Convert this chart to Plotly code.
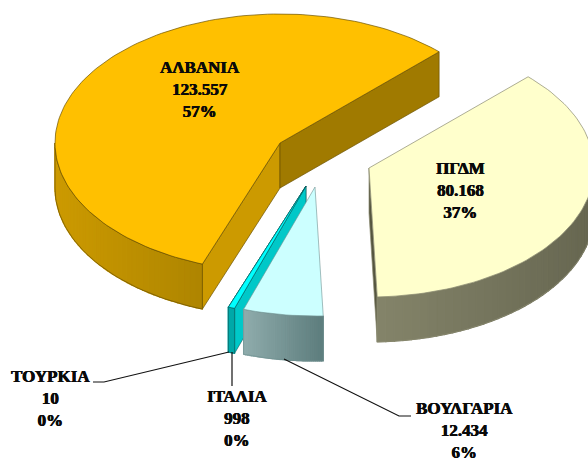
import math
import plotly.graph_objects as go

categories = ["ΠΓΔΜ", "ΒΟΥΛΓΑΡΙΑ", "ΙΤΑΛΙΑ", "ΤΟΥΡΚΙΑ", "ΑΛΒΑΝΙΑ"]
values = [80168, 12434, 998, 10, 123557]

first_slice_angle = 45
RX, RY, DEPTH = 225, 129, 45
W, H = 588, 461

style = {
    "ΑΛΒΑΝΙΑ": dict(apex=(280, 143), top="#FFC000", wall=("#CC9A00", "#AE8500"),
                    fs="#CC9A00", fe="#A07A00", line="#6B5200", lw=0.7, label=(200, 89)),
    "ΠΓΔΜ": dict(apex=(369, 168), top="#FFFFCC", wall=("#84846A", "#666650"),
                 fs="#66664F", fe="#55553F", line="#8A8A70", lw=0.7, label=(460, 190)),
    "ΒΟΥΛΓΑΡΙΑ": dict(apex=(315, 187), top="#CCFFFF", wall=("#8FACAC", "#5C7C7C"),
                      fs="#7A9A9A", fe="#7A9A9A", line="#6F9090", lw=0.6, label=(464, 430)),
    "ΙΤΑΛΙΑ": dict(apex=(306, 186), top="#00FFFF", wall=("#00A8A8", "#00A8A8"),
                   fs="#00C8C8", fe="#00A0A0", line="#0A5A5A", lw=0.6, label=(237, 418)),
    "ΤΟΥΡΚΙΑ": dict(apex=(306, 186), top="#00FFFF", wall=("#00A8A8", "#00A8A8"),
                    fs="#00C8C8", fe="#00A0A0", line="#0A5A5A", lw=0.6, label=(50, 398)),
}
leaders = {
    "ΤΟΥΡΚΙΑ": ([93, 104, 229], [382, 382, 352]),
    "ΙΤΑΛΙΑ": ([232, 232], [352, 386]),
    "ΒΟΥΛΓΑΡΙΑ": ([284, 399, 411], [359, 416, 416]),
}
paint_order = ["ΑΛΒΑΝΙΑ", "ΤΟΥΡΚΙΑ", "ΙΤΑΛΙΑ", "ΒΟΥΛΓΑΡΙΑ", "ΠΓΔΜ"]

total = sum(values)
spans = {}
a = first_slice_angle
for c, v in zip(categories, values):
    spans[c] = (a, a + 360 * v / total)
    a = spans[c][1]

fig = go.Figure()


def poly(xs, ys, fill, line=None, lw=0.5):
    fig.add_trace(go.Scatter(x=list(xs) + [xs[0]], y=list(ys) + [ys[0]], mode="lines", fill="toself",
                             fillcolor=fill, line=dict(color=line or fill, width=lw),
                             hoverinfo="skip", showlegend=False))


def pt(apex, deg, r=1.0):
    t = math.radians(deg)
    return apex[0] + r * RX * math.sin(t), apex[1] - r * RY * math.cos(t)


def mix(c1, c2, f):
    p = [int(c1[i:i + 2], 16) for i in (1, 3, 5)]
    q = [int(c2[i:i + 2], 16) for i in (1, 3, 5)]
    return "#%02X%02X%02X" % tuple(round(u + (w - u) * f) for u, w in zip(p, q))


def arc(apex, a0, a1, n):
    return [pt(apex, a0 + (a1 - a0) * i / n) for i in range(n + 1)]


def draw_flank(apex, deg, colour, line, lw):
    x1, y1 = pt(apex, deg)
    poly([apex[0], x1, x1, apex[0]], [apex[1], y1, y1 + DEPTH, apex[1] + DEPTH], colour, line, lw)


def draw_outer_wall(apex, a0, a1, s):
    # visible part of the rim: the half of the ellipse nearest the viewer
    lo, hi = max(a0, 90), min(a1, 270)
    if hi <= lo:
        return
    n = max(2, min(40, int((hi - lo) * 2)))
    pts = arc(apex, lo, hi, n)
    xmin, xmax = min(p[0] for p in pts), max(p[0] for p in pts)
    for p0, p1 in zip(pts[:-1], pts[1:]):
        f = ((p0[0] + p1[0]) / 2 - xmin) / max(xmax - xmin, 1e-6)
        col = mix(s["wall"][0], s["wall"][1], f)
        poly([p0[0], p1[0], p1[0], p0[0]], [p0[1], p1[1], p1[1] + DEPTH, p0[1] + DEPTH], col, col, 1.2)
    fine = arc(apex, lo, hi, max(2, int((hi - lo) / 1.5)))
    xs = [p[0] for p in fine] + [p[0] for p in reversed(fine)]
    ys = [p[1] for p in fine] + [p[1] + DEPTH for p in reversed(fine)]
    fig.add_trace(go.Scatter(x=xs + [xs[0]], y=ys + [ys[0]], mode="lines",
                             line=dict(color=s["line"], width=s["lw"]),
                             hoverinfo="skip", showlegend=False))


for c in paint_order:
    s = style[c]
    a0, a1 = spans[c]
    apex = s["apex"]
    # side faces, drawn only when they turn towards the viewer
    if math.cos(math.radians(a0 - 90)) < 0:
        draw_flank(apex, a0, s["fs"], s["line"], s["lw"])
    if math.cos(math.radians(a1 + 90)) < 0:
        draw_flank(apex, a1, s["fe"], s["line"], s["lw"])
    draw_outer_wall(apex, a0, a1, s)
    pts = arc(apex, a0, a1, max(2, int((a1 - a0) / 1.5)))
    poly([apex[0]] + [p[0] for p in pts], [apex[1]] + [p[1] for p in pts], s["top"], s["line"], s["lw"])

for c, (lx, ly) in leaders.items():
    fig.add_trace(go.Scatter(x=lx, y=ly, mode="lines", line=dict(color="#111111", width=1.2),
                             hoverinfo="skip", showlegend=False))

for c, v in zip(categories, values):
    s = style[c]
    txt = f"{c}<br>{v:,}".replace(",", ".") + f"<br>{round(100 * v / total)}%"
    fig.add_annotation(x=s["label"][0], y=s["label"][1], text=f"<b>{txt}</b>", showarrow=False,
                       xanchor="center", yanchor="middle", align="center",
                       font=dict(family="Liberation Serif", size=17, color="#0A0A0A",
                                 shadow="0.4px 0 0 #0A0A0A, -0.3px 0 0 #0A0A0A"))

fig.update_xaxes(range=[0, W], visible=False, fixedrange=True)
fig.update_yaxes(range=[H, 0], visible=False, fixedrange=True)
fig.update_layout(width=W, height=H, margin=dict(l=0, r=0, t=0, b=0), paper_bgcolor="white",
                  plot_bgcolor="white", showlegend=False)
fig.write_html("out.html", config={"displayModeBar": False},
               post_script="document.body.style.margin='0';document.documentElement.style.overflow='hidden';")
